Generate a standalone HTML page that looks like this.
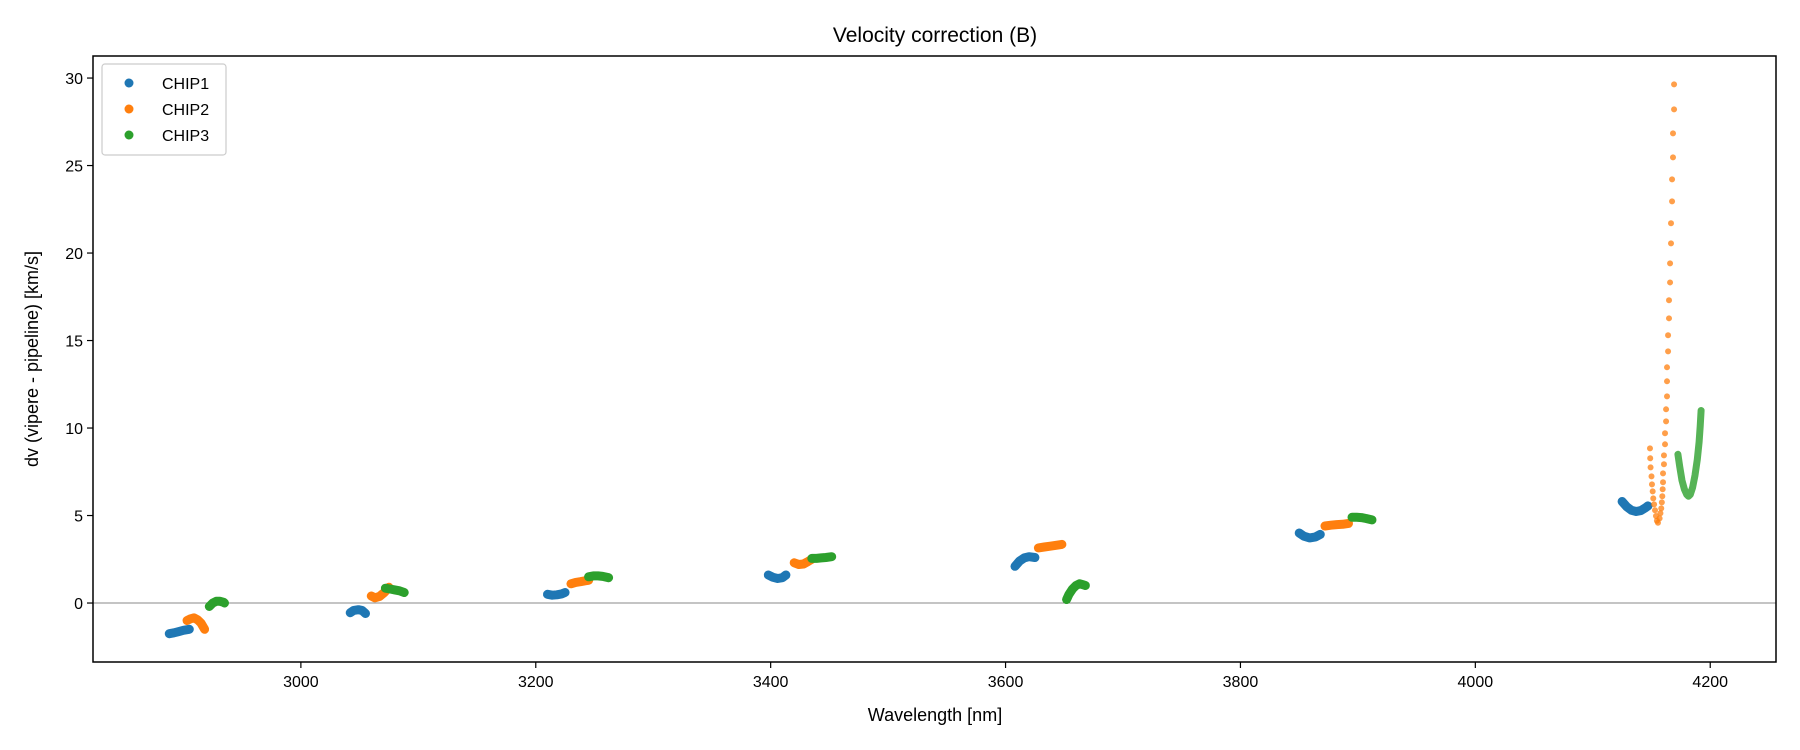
<!DOCTYPE html>
<html><head><meta charset="utf-8"><style>
html,body{margin:0;padding:0;background:#fff;}
svg{display:block;font-family:"Liberation Sans","DejaVu Sans",sans-serif;}
</style></head><body>
<svg id="chart" width="1800" height="750" viewBox="0 0 1800 750">
<text x="935" y="42" text-anchor="middle" font-size="21">Velocity correction (B)</text>
<g id="plot"></g>
<rect x="93" y="56" width="1683" height="606" fill="none" stroke="#000" stroke-width="1.5"/>
<text x="935" y="721" text-anchor="middle" font-size="18">Wavelength [nm]</text>
<text transform="translate(38,359) rotate(-90)" text-anchor="middle" font-size="18">dv (vipere - pipeline) [km/s]</text>
<g id="legend">
<rect x="102" y="64" width="124" height="91" rx="3" fill="#fff" stroke="#ccc" stroke-width="1.2"/>
<circle cx="129" cy="83" r="4.5" fill="#1f77b4"/>
<text x="162" y="89" font-size="16">CHIP1</text>
<circle cx="129" cy="109" r="4.5" fill="#ff7f0e"/>
<text x="162" y="115" font-size="16">CHIP2</text>
<circle cx="129" cy="135" r="4.5" fill="#2ca02c"/>
<text x="162" y="141" font-size="16">CHIP3</text>
</g>
</svg>
<script>
const xTicks = [3000, 3200, 3400, 3600, 3800, 4000, 4200];
const yTicks = [0, 5, 10, 15, 20, 25, 30];
// CHIP1 segments: [wavelength, dv] pairs
const chip1 = [
 [[2888,-1.75],[2892,-1.7],[2896,-1.63],[2900,-1.56],[2905,-1.5]],
 [[3042,-0.55],[3045,-0.42],[3049,-0.38],[3052,-0.42],[3055,-0.6]],
 [[3210,0.5],[3214,0.45],[3218,0.47],[3222,0.52],[3225,0.6]],
 [[3398,1.6],[3402,1.47],[3406,1.4],[3410,1.45],[3413,1.6]],
 [[3608,2.1],[3612,2.4],[3616,2.58],[3620,2.65],[3625,2.6]],
 [[3850,4.0],[3854,3.82],[3859,3.72],[3864,3.78],[3868,3.92]],
 [[4125,5.8],[4129,5.5],[4133,5.3],[4137,5.23],[4141,5.28],[4145,5.45],[4147,5.55]]
];
const chip2 = [
 [[2903,-1.0],[2906,-0.9],[2909,-0.85],[2912,-0.95],[2915,-1.15],[2918,-1.5]],
 [[3060,0.4],[3063,0.3],[3067,0.38],[3071,0.6],[3075,0.9]],
 [[3230,1.1],[3234,1.18],[3238,1.22],[3242,1.27],[3245,1.3]],
 [[3420,2.3],[3424,2.2],[3428,2.23],[3432,2.38],[3435,2.5]],
 [[3628,3.15],[3633,3.2],[3638,3.25],[3643,3.3],[3648,3.35]],
 [[3872,4.4],[3877,4.45],[3882,4.48],[3887,4.5],[3892,4.55]]
];
// CHIP2 last order (sparse points)
const chip2Sparse = [
 [4148.7,8.84],[4148.9,8.27],[4149.2,7.75],[4150.0,7.24],[4150.4,6.78],[4151.0,6.38],[4151.5,5.98],[4152.2,5.64],[4153.0,5.30],[4153.8,4.97],[4154.6,4.70],
 [4155.5,4.59],[4156.9,4.84],[4157.6,5.13],[4158.3,5.41],[4158.8,5.75],[4159.2,6.10],[4159.5,6.50],[4159.8,6.90],[4159.8,7.41],[4160.6,7.93],[4160.6,8.44],
 [4161.5,9.07],[4161.5,9.70],[4162.4,10.38],[4162.4,11.07],[4163.2,11.81],[4163.2,12.67],[4163.2,13.47],[4164.1,14.38],[4164.1,15.30],[4164.9,16.27],
 [4164.9,17.30],[4165.8,18.32],[4165.8,19.41],[4166.6,20.55],[4166.6,21.70],[4167.5,22.95],[4167.5,24.21],[4168.3,25.47],[4168.3,26.84],[4169.2,28.21],[4169.2,29.64]
];
const chip3 = [
 [[2922,-0.2],[2925,0.0],[2928,0.1],[2931,0.1],[2934,0.05],[2935,0.0]],
 [[3072,0.85],[3076,0.8],[3080,0.75],[3084,0.7],[3088,0.6]],
 [[3245,1.5],[3249,1.55],[3253,1.55],[3257,1.52],[3262,1.45]],
 [[3435,2.55],[3439,2.55],[3443,2.58],[3447,2.6],[3452,2.65]],
 [[3652,0.2],[3654,0.5],[3657,0.8],[3660,1.0],[3663,1.1],[3666,1.05],[3668,1.0]],
 [[3895,4.9],[3899,4.9],[3903,4.88],[3907,4.83],[3912,4.75]]
];
const chip3Last = [[4172.5,8.5],[4174,7.8],[4176,7.0],[4178,6.5],[4180,6.2],[4181.5,6.1],[4183,6.2],[4185,6.6],[4187,7.3],[4189,8.2],[4190.5,9.2],[4191.5,10.1],[4192.2,11.0]];

const X0=93,X1=1776,Y0=56,Y1=662, xmin=2823, xmax=4256, ymin=-3.37, ymax=31.26;
function xs(v){return X0+(v-xmin)/(xmax-xmin)*(X1-X0);}
function ys(v){return Y1-(v-ymin)/(ymax-ymin)*(Y1-Y0);}
const NS='http://www.w3.org/2000/svg';
const plot=document.getElementById('plot');
function mk(tag,attrs){const e=document.createElementNS(NS,tag);for(const k in attrs)e.setAttribute(k,attrs[k]);plot.appendChild(e);return e;}

xTicks.forEach(t=>{
 const l=mk('line',{x1:xs(t),x2:xs(t),y1:Y1,y2:Y1+6,stroke:'#000','stroke-width':1.2});
 
 
 const tx=mk('text',{x:xs(t),y:Y1+25,'text-anchor':'middle','font-size':16});
 tx.textContent=t;
 
 
});
yTicks.forEach(t=>{
 const l=mk('line',{x1:X0-6,x2:X0,y1:ys(t),y2:ys(t),stroke:'#000','stroke-width':1.2});
 
 
 const tx=mk('text',{x:X0-10,y:ys(t)+6,'text-anchor':'end','font-size':16});
 tx.textContent=t;
 
 
});
const zl=mk('line',{x1:X0,x2:X1,y1:ys(0),y2:ys(0),stroke:'#888','stroke-width':1});



function seg(pts,color,name,w,op){
 const d=pts.map((p,i)=>(i?'L':'M')+xs(p[0]).toFixed(1)+','+ys(p[1]).toFixed(1)).join(' ');
 const p=mk('path',{d:d,fill:'none',stroke:color,'stroke-width':w,'stroke-linecap':'round','stroke-linejoin':'round','stroke-opacity':op});
 
 
}
chip1.forEach((s,i)=>seg(s,'#1f77b4','chip1-order-'+(i+1),9,1));
chip2.forEach((s,i)=>seg(s,'#ff7f0e','chip2-order-'+(i+1),9,1));
chip3.forEach((s,i)=>seg(s,'#2ca02c','chip3-order-'+(i+1),9,1));
seg(chip3Last,'#2ca02c','chip3-order-7',7,0.8);
chip2Sparse.forEach(p=>{
 const c=mk('circle',{cx:xs(p[0]),cy:ys(p[1]),r:3,fill:'#ff7f0e','fill-opacity':0.75});
 
 
});
</script>
</body></html>
